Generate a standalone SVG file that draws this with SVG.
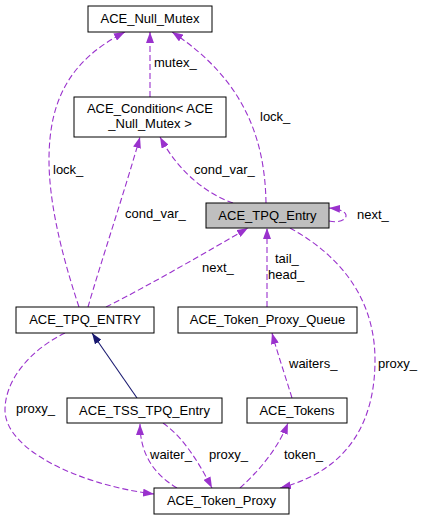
<svg xmlns="http://www.w3.org/2000/svg" width="424" height="520" viewBox="0 0 424 520">
<style>
text{font-family:"Liberation Sans",Arial,sans-serif;font-size:13px;fill:#000}
.n rect{fill:#fff;stroke:#000;stroke-width:1}
.n text{text-anchor:middle}
.e path{fill:none;stroke:#9a32cd;stroke-width:1.1;stroke-dasharray:6,3}
.e path.inh{stroke:#191970;stroke-dasharray:none}
</style>
<defs>
<marker id="ap" viewBox="0 0 11 8" refX="11" refY="4" markerWidth="11" markerHeight="8" markerUnits="userSpaceOnUse" orient="auto"><path d="M0,0 L11,4 L0,8 z" fill="#9a32cd"/></marker>
<marker id="an" viewBox="0 0 11 8" refX="11" refY="4" markerWidth="11" markerHeight="8" markerUnits="userSpaceOnUse" orient="auto"><path d="M0,0 L11,4 L0,8 z" fill="#191970"/></marker>
</defs>
<rect width="424" height="520" fill="#fff"/>
<g id="edges" class="e">
<path d="M150,97 L150,32" marker-end="url(#ap)"/>
<path d="M79,307 C60,250 49,200 49,160 C49,100 70,60 125,32" marker-end="url(#ap)"/>
<path d="M88,307 C100,265 125,190 140,137" marker-end="url(#ap)"/>
<path d="M106,307 C150,285 210,250 248,228" marker-end="url(#ap)"/>
<path d="M266,203 C265,140 245,80 172,32" marker-end="url(#ap)"/>
<path d="M233,203 C210,195 180,175 160,137" marker-end="url(#ap)"/>
<path d="M329,221 C347,225 356,210 329,208" marker-end="url(#ap)"/>
<path d="M267,307 L267,228" marker-end="url(#ap)"/>
<path d="M290,228 C330,250 375,290 375,360 C375,420 350,470 280,488" marker-end="url(#ap)"/>
<path d="M292,398 C285,375 278,355 272,333" marker-end="url(#ap)"/>
<path class="inh" d="M137,398 L92,333" marker-end="url(#an)"/>
<path d="M65,333 C30,350 5,380 5,410 C5,450 80,485 154,494" marker-end="url(#ap)"/>
<path d="M177,488 C155,475 140,455 140,424" marker-end="url(#ap)"/>
<path d="M163,423 C180,435 195,455 212,488" marker-end="url(#ap)"/>
<path d="M240,488 C260,470 278,448 288,423" marker-end="url(#ap)"/>
</g>
<g id="labels">
<text x="154" y="67">mutex_</text>
<text x="53" y="174">lock_</text>
<text x="125" y="218">cond_var_</text>
<text x="202" y="272">next_</text>
<text x="260" y="121">lock_</text>
<text x="194" y="174">cond_var_</text>
<text x="357" y="219">next_</text>
<text x="275" y="263">tail_</text>
<text x="268" y="279">head_</text>
<text x="378" y="368">proxy_</text>
<text x="289" y="368">waiters_</text>
<text x="16" y="413">proxy_</text>
<text x="150" y="459">waiter_</text>
<text x="209" y="459">proxy_</text>
<text x="284" y="459">token_</text>
</g>
<g id="ACE_Null_Mutex" class="n"><rect x="88" y="6" width="124" height="26"/><text x="150" y="23">ACE_Null_Mutex</text></g>
<g id="ACE_Condition" class="n"><rect x="74" y="97" width="152" height="40"/><text x="150" y="113">ACE_Condition&lt; ACE</text><text x="150" y="128">_Null_Mutex &gt;</text></g>
<g id="ACE_TPQ_Entry" class="n"><rect x="206" y="203" width="123" height="25" style="fill:#bfbfbf"/><text x="267.5" y="220">ACE_TPQ_Entry</text></g>
<g id="ACE_TPQ_ENTRY" class="n"><rect x="16" y="307" width="138" height="26"/><text x="85" y="324">ACE_TPQ_ENTRY</text></g>
<g id="ACE_Token_Proxy_Queue" class="n"><rect x="178" y="307" width="179" height="26"/><text x="267.5" y="324">ACE_Token_Proxy_Queue</text></g>
<g id="ACE_TSS_TPQ_Entry" class="n"><rect x="67" y="398" width="155" height="25"/><text x="144.5" y="415">ACE_TSS_TPQ_Entry</text></g>
<g id="ACE_Tokens" class="n"><rect x="247" y="398" width="100" height="25"/><text x="297" y="415">ACE_Tokens</text></g>
<g id="ACE_Token_Proxy" class="n"><rect x="154" y="488" width="135" height="26"/><text x="221.5" y="505">ACE_Token_Proxy</text></g>
</svg>
